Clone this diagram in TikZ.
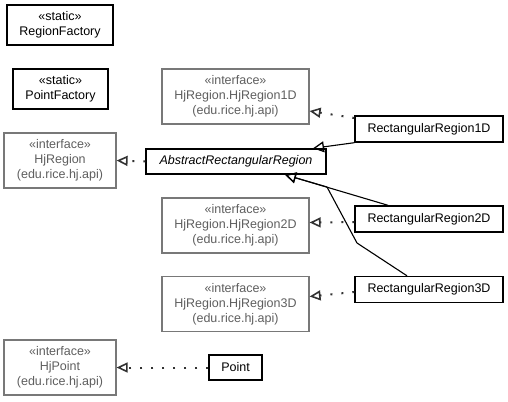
\documentclass[tikz,border=0pt]{standalone}
\usepackage{fontspec}
\setmainfont{Liberation Sans}
\usetikzlibrary{arrows.meta}
\definecolor{ifgray}{RGB}{120,120,120}
\definecolor{iftext}{RGB}{95,95,95}
\definecolor{dotc}{RGB}{50,50,50}
\begin{document}
\begin{tikzpicture}[x=1bp,y=-1bp,
  base/.style={rectangle,fill=white,inner sep=0pt,align=center,font=\fontsize{12.5bp}{15bp}\selectfont},
  cls/.style={base,draw=black,line width=1.4bp},
  iface/.style={base,draw=ifgray,line width=1.2bp,text=iftext},
  real/.style={draw=dotc,line width=2bp,dash pattern=on 2bp off 9bp,
    -{Triangle[open,length=11bp,width=10bp,line width=1.6bp,sep=0pt]}},
  gen/.style={draw=black,line width=1.1bp,
    -{Triangle[open,length=11bp,width=11bp,line width=1.3bp]}}]
\useasboundingbox (0,0) rectangle (508,401);

\node[cls, minimum width=106bp, minimum height=40bp] (rf) at (60,25) {«static»\\RegionFactory};
\node[cls, minimum width=95bp, minimum height=40bp] (pf) at (60.5,89) {«static»\\PointFactory};
\node[iface, minimum width=147bp, minimum height=55bp] (h1) at (235.5,96.5) {«interface»\\HjRegion.HjRegion1D\\(edu.rice.hj.api)};
\node[iface, minimum width=112bp, minimum height=55bp] (hjr) at (60,160.5) {«interface»\\HjRegion\\(edu.rice.hj.api)};
\node[cls, minimum width=180bp, minimum height=25bp, font=\fontsize{12.5bp}{15bp}\selectfont\itshape] (ab) at (236,161.5) {AbstractRectangularRegion};
\node[cls, minimum width=148bp, minimum height=26bp] (r1) at (429,129) {RectangularRegion1D};
\node[iface, minimum width=147bp, minimum height=55bp] (h2) at (235.5,225.5) {«interface»\\HjRegion.HjRegion2D\\(edu.rice.hj.api)};
\node[cls, minimum width=148bp, minimum height=26bp] (r2) at (429,219) {RectangularRegion2D};
\node[iface, minimum width=147bp, minimum height=55bp] (h3) at (235.5,304) {«interface»\\HjRegion.HjRegion3D\\(edu.rice.hj.api)};
\node[cls, minimum width=148bp, minimum height=26bp] (r3) at (429,289.5) {RectangularRegion3D};
\node[iface, minimum width=112bp, minimum height=55bp] (hp) at (60,367.5) {«interface»\\HjPoint\\(edu.rice.hj.api)};
\node[cls, minimum width=53bp, minimum height=25bp] (pt) at (235.5,367.5) {Point};

\coordinate (b3a) at (357,243);
\coordinate (b3b) at (327,187);

\draw[real] (ab.west) -- (hjr.east);
\draw[real] ([yshift=11bp]r1.west) -- ([yshift=-14.5bp]h1.east);
\draw[real] ([yshift=-3bp]r2.west) -- ([yshift=3bp]h2.east);
\draw[real] ([yshift=-2.5bp]r3.west) -- ([yshift=7.5bp]h3.east);
\draw[real] (pt.west) -- (hp.east);

\draw[gen] (r1.south west) -- ([xshift=77bp]ab.north);
\draw[gen] ([xshift=-41bp]r2.north) -- ([xshift=49bp]ab.south);
\draw[gen] ([xshift=-22bp]r3.north) -- (b3a) -- (b3b) -- ([xshift=49bp]ab.south);
\end{tikzpicture}
\end{document}
